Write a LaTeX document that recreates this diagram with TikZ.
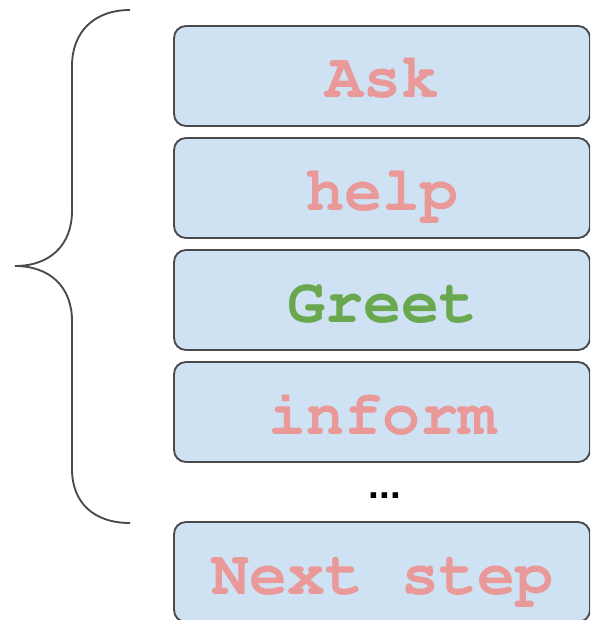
\documentclass[tikz,border=0pt]{standalone}
\usepackage[T1]{fontenc}
\usepackage{fontspec}
\newfontfamily\dotfont{Liberation Sans}
\newcommand{\boxfont}{\fontencoding{T1}\fontfamily{pcr}\fontseries{b}\selectfont}
\definecolor{boxfill}{HTML}{CFE2F3}
\definecolor{boxline}{HTML}{4A4A4A}
\definecolor{intentred}{HTML}{EA9999}
\definecolor{intentgreen}{HTML}{6AA84F}
\begin{document}
\begin{tikzpicture}[x=0.75pt,y=-0.75pt,
  intent/.style={draw=boxline, line width=1.4pt, fill=boxfill, rounded corners=9pt,
    minimum width=416*0.75pt, minimum height=100*0.75pt, inner sep=0pt,
    text height=33pt, text depth=0pt,
    font=\boxfont\fontsize{47.5}{50}\selectfont, text=intentred},
  bracestyle/.style={draw=boxline, line width=1.4pt}]
  \useasboundingbox (0,0) rectangle (590,620);
  \clip (0,0) rectangle (590,620);

  \node[intent] (ask)    at (382,76)  {Ask};
  \node[intent] (help)   at (382,188) {help};
  \node[intent, text=intentgreen] (greet) at (382,300) {Greet};
  \node[intent] (inform) at (382,412) {inform};
  \node[font=\dotfont\bfseries\fontsize{29}{30}\selectfont] (dots) at (385,496) {...};
  \node[intent] (next)   at (382,572) {Next step};

  % curly brace grouping the intents
  \draw[bracestyle] (130,10) .. controls (94,10) and (72,32) .. (72,66)
    -- (72,211) .. controls (72,245) and (50,266) .. (15,266)
    .. controls (50,266) and (72,287) .. (72,321)
    -- (72,469) .. controls (72,503) and (94,523) .. (130,523);
\end{tikzpicture}
\end{document}
